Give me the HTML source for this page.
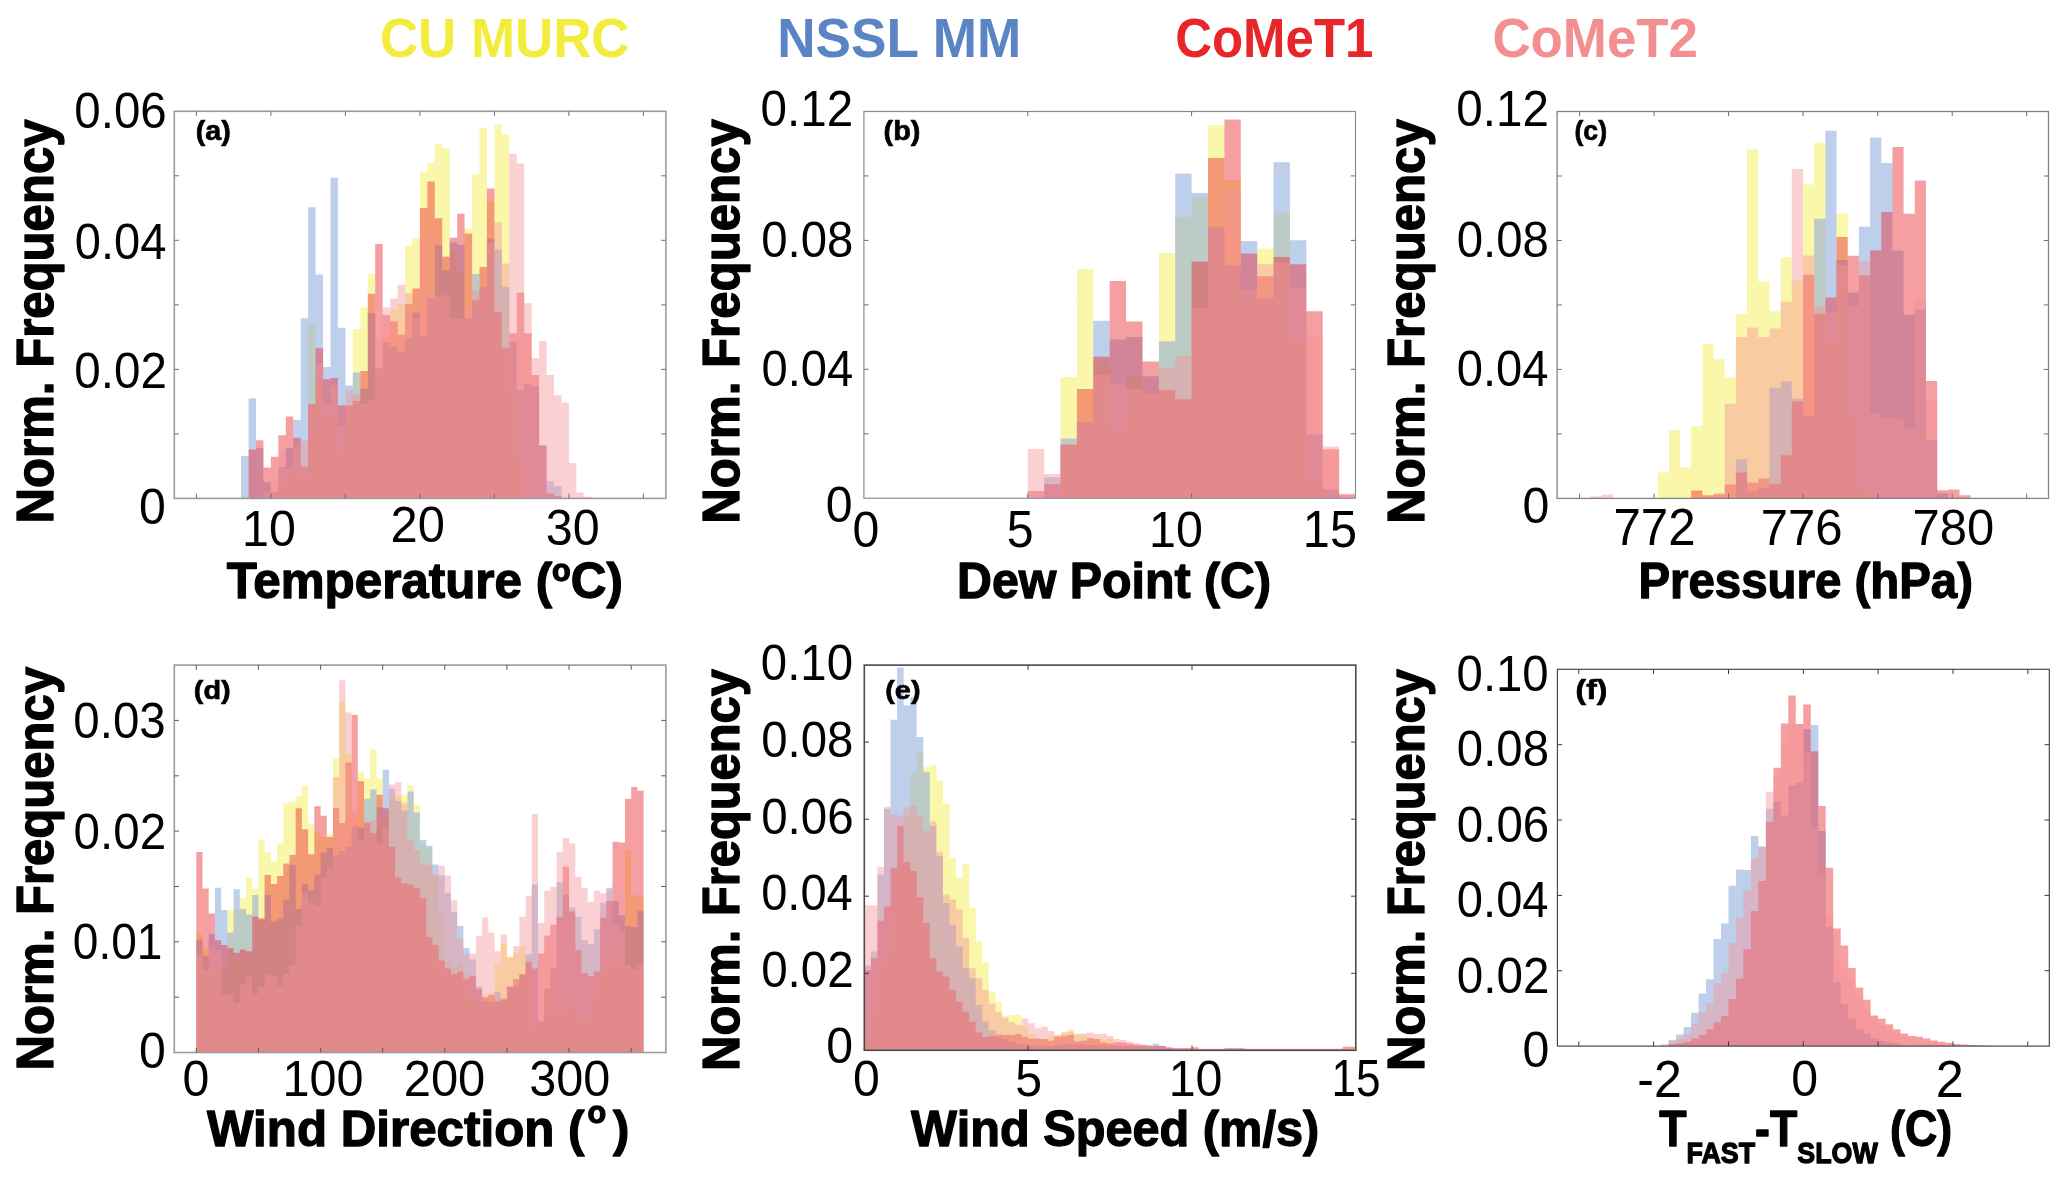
<!DOCTYPE html>
<html><head><meta charset="utf-8"><title>Histograms</title>
<style>
html,body{margin:0;padding:0;background:#fff;}
body{width:2067px;height:1182px;overflow:hidden;font-family:"Liberation Sans",sans-serif;}
svg{display:block;}
text{font-family:"Liberation Sans",sans-serif;}
.b{font-weight:bold;}
</style></head><body>
<svg width="2067" height="1182" viewBox="0 0 2067 1182">
<rect width="2067" height="1182" fill="#fff"/>
<g id="pa">
<clipPath id="ca"><rect x="174.3" y="111.3" width="491.6" height="387.1"/></clipPath>
<g clip-path="url(#ca)">
<path d="M278.4 498.4V483.4 H285.8V470.7 H293.2V474.5 H300.7V481.6 H308.1V325.2 H315.6V381.1 H323.1V416.1 H330.5V413.6 H337.9V454.2 H345.4V409.8 H352.8V329.2 H360.3V307.4 H367.8V273.9 H375.2V375.5 H382.7V338.6 H390.1V309.4 H397.6V304.3 H405.0V245.4 H412.4V238.3 H419.9V171.8 H427.3V162.9 H434.8V143.8 H442.2V148.4 H449.7V250.0 H457.2V270.8 H464.6V228.4 H472.1V174.3 H479.5V128.1 H486.9V201.2 H494.4V124.3 H501.8V134.4 H509.3V392.2 H516.8V456.5 H524.2V498.4Z" fill="#f4ec42" fill-opacity="0.45"/>
<path d="M241.1 498.4V456.0 H248.6V398.3 H256.0V447.9 H263.4V482.1 H270.9V492.3 H278.3V466.9 H285.8V447.9 H293.2V419.9 H300.7V318.3 H308.1V207.3 H315.6V274.6 H323.1V367.1 H330.5V177.8 H337.9V327.7 H345.4V385.6 H352.8V372.4 H360.3V388.7 H367.8V313.2 H375.2V367.8 H382.7V342.4 H390.1V346.3 H397.6V351.8 H405.0V337.4 H412.4V313.2 H419.9V336.3 H427.3V298.2 H434.8V245.4 H442.2V270.3 H449.7V242.4 H457.2V244.9 H464.6V318.1 H472.1V274.1 H479.5V286.8 H486.9V238.6 H494.4V249.5 H501.8V286.8 H509.3V341.4 H516.8V390.2 H524.2V383.3 H531.7V386.2 H539.1V445.4 H546.6V481.3 H554.0V486.0 H561.5V498.4Z" fill="#89a8db" fill-opacity="0.55"/>
<path d="M248.6 498.4V449.6 H256.0V440.2 H263.4V467.4 H270.9V456.7 H278.3V435.2 H285.8V416.6 H293.2V437.7 H300.7V466.4 H308.1V403.9 H315.6V348.3 H323.1V379.3 H330.5V378.0 H337.9V405.4 H345.4V405.4 H352.8V400.9 H360.3V370.9 H367.8V293.7 H375.2V243.9 H382.7V315.0 H390.1V321.6 H397.6V334.8 H405.0V304.3 H412.4V288.6 H419.9V208.1 H427.3V181.4 H434.8V218.2 H442.2V256.8 H449.7V237.8 H457.2V213.7 H464.6V233.5 H472.1V300.3 H479.5V267.0 H486.9V188.5 H494.4V312.2 H501.8V347.8 H509.3V333.3 H516.8V292.7 H524.2V333.3 H531.7V375.0 H539.1V445.4 H546.6V493.4 H554.0V496.3 H561.5V498.4Z" fill="#ea2a32" fill-opacity="0.45"/>
<path d="M263.4 498.4V492.3 H270.9V479.1 H278.3V452.9 H285.8V468.7 H293.2V446.6 H300.7V440.2 H308.1V403.9 H315.6V362.8 H323.1V403.4 H330.5V385.6 H337.9V426.3 H345.4V390.7 H352.8V394.5 H360.3V403.4 H367.8V399.6 H375.2V338.6 H382.7V307.4 H390.1V298.8 H397.6V284.8 H405.0V292.9 H412.4V318.3 H419.9V239.3 H427.3V290.6 H434.8V295.7 H442.2V295.2 H449.7V317.8 H457.2V318.6 H464.6V305.4 H472.1V290.6 H479.5V286.8 H486.9V242.9 H494.4V222.6 H501.8V263.4 H509.3V154.0 H516.8V163.6 H524.2V303.3 H531.7V358.2 H539.1V340.9 H546.6V375.0 H554.0V395.3 H561.5V402.6 H568.9V463.0 H576.4V492.4 H583.8V496.8 H591.3V497.7 H598.7V498.4Z" fill="#f59397" fill-opacity="0.43"/>
</g>
<rect x="174.3" y="111.3" width="491.6" height="387.1" fill="none" stroke="#9b9b9b" stroke-width="1.6"/>
<path d="M196.4 498.4v-4.7 M196.4 111.3v4.7 M270.9 498.4v-4.7 M270.9 111.3v4.7 M345.4 498.4v-4.7 M345.4 111.3v4.7 M419.9 498.4v-4.7 M419.9 111.3v4.7 M494.4 498.4v-4.7 M494.4 111.3v4.7 M568.9 498.4v-4.7 M568.9 111.3v4.7 M643.4 498.4v-4.7 M643.4 111.3v4.7 M174.3 433.9h4.7 M665.9 433.9h-4.7 M174.3 369.4h4.7 M665.9 369.4h-4.7 M174.3 304.9h4.7 M665.9 304.9h-4.7 M174.3 240.3h4.7 M665.9 240.3h-4.7 M174.3 175.8h4.7 M665.9 175.8h-4.7" stroke="#6e6e6e" stroke-width="1" fill="none"/>
</g>
<g id="pb">
<clipPath id="cb"><rect x="863.9" y="111.5" width="491.6" height="386.7"/></clipPath>
<g clip-path="url(#cb)">
<path d="M1060.5 498.2V376.9 H1076.9V269.0 H1093.3V360.8 H1109.7V429.4 H1126.1V376.3 H1142.5V393.4 H1158.9V253.0 H1175.2V217.0 H1191.6V197.5 H1208.0V125.2 H1224.4V180.0 H1240.8V297.5 H1257.2V248.5 H1273.6V212.5 H1289.9V343.0 H1306.3V479.7 H1322.7V498.2Z" fill="#f4ec42" fill-opacity="0.45"/>
<path d="M1044.2 498.2V477.3 H1060.5V438.6 H1076.9V422.5 H1093.3V320.8 H1109.7V339.6 H1126.1V336.9 H1142.5V376.3 H1158.9V341.3 H1175.2V173.5 H1191.6V193.0 H1208.0V227.3 H1224.4V265.6 H1240.8V241.0 H1257.2V298.2 H1273.6V162.2 H1289.9V240.3 H1306.3V434.5 H1322.7V489.3 H1339.1V498.2Z" fill="#89a8db" fill-opacity="0.55"/>
<path d="M1027.8 498.2V491.0 H1044.2V484.2 H1060.5V444.8 H1076.9V388.9 H1093.3V356.7 H1109.7V281.0 H1126.1V321.5 H1142.5V361.5 H1158.9V390.0 H1175.2V399.2 H1191.6V261.5 H1208.0V158.1 H1224.4V119.4 H1240.8V253.6 H1257.2V276.2 H1273.6V257.1 H1289.9V264.3 H1306.3V311.2 H1322.7V449.2 H1339.1V494.4 H1355.5V498.2Z" fill="#ea2a32" fill-opacity="0.45"/>
<path d="M1027.8 498.2V448.9 H1044.2V473.9 H1060.5V444.8 H1076.9V422.5 H1093.3V374.5 H1109.7V384.1 H1126.1V389.3 H1142.5V393.4 H1158.9V367.7 H1175.2V355.7 H1191.6V307.8 H1208.0V227.3 H1224.4V191.3 H1240.8V289.6 H1257.2V264.3 H1273.6V262.2 H1289.9V288.2 H1306.3V335.2 H1322.7V446.5 H1339.1V493.7 H1355.5V498.2Z" fill="#f59397" fill-opacity="0.43"/>
</g>
<rect x="863.9" y="111.5" width="491.6" height="386.7" fill="none" stroke="#8c8c8c" stroke-width="1.2"/>
<path d="M1027.8 498.2v-4.7 M1027.8 111.5v4.7 M1191.6 498.2v-4.7 M1191.6 111.5v4.7 M863.9 433.8h4.7 M1355.5 433.8h-4.7 M863.9 369.3h4.7 M1355.5 369.3h-4.7 M863.9 304.9h4.7 M1355.5 304.9h-4.7 M863.9 240.4h4.7 M1355.5 240.4h-4.7 M863.9 175.9h4.7 M1355.5 175.9h-4.7" stroke="#6e6e6e" stroke-width="1" fill="none"/>
</g>
<g id="pc">
<clipPath id="cc"><rect x="1557.1" y="111.5" width="491.4" height="386.9"/></clipPath>
<g clip-path="url(#cc)">
<path d="M1657.7 498.4V472.4 H1668.9V430.2 H1680.1V467.2 H1691.2V426.1 H1702.4V343.9 H1713.6V359.3 H1724.8V377.5 H1735.9V314.1 H1747.1V149.3 H1758.3V281.5 H1769.5V311.3 H1780.7V257.2 H1791.8V280.5 H1803.0V184.5 H1814.2V142.7 H1825.4V342.2 H1836.5V213.7 H1847.7V417.5 H1858.9V487.8 H1870.1V498.4Z" fill="#f4ec42" fill-opacity="0.45"/>
<path d="M1735.9 498.4V459.3 H1747.1V491.2 H1758.3V487.8 H1769.5V387.7 H1780.7V381.6 H1791.8V398.7 H1803.0V415.8 H1814.2V218.8 H1825.4V130.8 H1836.5V259.9 H1847.7V292.5 H1858.9V226.7 H1870.1V137.6 H1881.3V163.0 H1892.4V250.7 H1903.6V314.7 H1914.8V309.6 H1926.0V439.8 H1937.2V493.6 H1948.3V498.4Z" fill="#89a8db" fill-opacity="0.55"/>
<path d="M1691.2 498.4V490.5 H1702.4V495.3 H1713.6V494.6 H1724.8V484.4 H1735.9V472.4 H1747.1V482.6 H1758.3V478.5 H1769.5V483.7 H1780.7V455.2 H1791.8V401.4 H1803.0V274.7 H1814.2V313.7 H1825.4V297.6 H1836.5V237.0 H1847.7V255.8 H1858.9V275.3 H1870.1V250.3 H1881.3V212.0 H1892.4V146.9 H1903.6V213.7 H1914.8V180.4 H1926.0V380.9 H1937.2V490.2 H1948.3V489.5 H1959.5V495.3 H1970.7V498.4Z" fill="#ea2a32" fill-opacity="0.45"/>
<path d="M1590.6 498.4V496.3 H1601.8V494.6 H1613.0V498.4ZM1713.6 498.4V492.9 H1724.8V403.8 H1735.9V337.0 H1747.1V327.4 H1758.3V337.0 H1769.5V328.5 H1780.7V301.7 H1791.8V169.1 H1803.0V255.5 H1814.2V306.2 H1825.4V312.0 H1836.5V265.1 H1847.7V306.2 H1858.9V261.6 H1870.1V413.1 H1881.3V417.5 H1892.4V419.3 H1903.6V427.8 H1914.8V298.6 H1926.0V399.7 H1937.2V498.4Z" fill="#f59397" fill-opacity="0.43"/>
</g>
<rect x="1557.1" y="111.5" width="491.4" height="386.9" fill="none" stroke="#838383" stroke-width="1.3"/>
<path d="M1579.6 498.4v-4.7 M1579.6 111.5v4.7 M1654.1 498.4v-4.7 M1654.1 111.5v4.7 M1728.6 498.4v-4.7 M1728.6 111.5v4.7 M1803.1 498.4v-4.7 M1803.1 111.5v4.7 M1877.7 498.4v-4.7 M1877.7 111.5v4.7 M1952.2 498.4v-4.7 M1952.2 111.5v4.7 M2026.7 498.4v-4.7 M2026.7 111.5v4.7 M1557.1 433.9h4.7 M2048.5 433.9h-4.7 M1557.1 369.4h4.7 M2048.5 369.4h-4.7 M1557.1 304.9h4.7 M2048.5 304.9h-4.7 M1557.1 240.5h4.7 M2048.5 240.5h-4.7 M1557.1 176.0h4.7 M2048.5 176.0h-4.7" stroke="#6e6e6e" stroke-width="1" fill="none"/>
</g>
<g id="pd">
<clipPath id="cd"><rect x="174.3" y="665.1" width="491.6" height="387.4"/></clipPath>
<g clip-path="url(#cd)">
<path d="M196.3 1052.5V934.0 H202.5V949.0 H208.7V973.1 H214.9V962.1 H221.2V968.4 H227.4V909.9 H233.6V908.9 H239.8V898.0 H246.0V877.6 H252.2V888.6 H258.4V839.5 H264.6V852.6 H270.9V861.4 H277.1V843.2 H283.3V803.2 H289.5V801.9 H295.7V796.3 H301.9V785.4 H308.1V823.8 H314.3V832.3 H320.6V836.4 H326.8V834.5 H333.0V758.8 H339.2V701.8 H345.4V754.1 H351.6V812.6 H357.8V771.3 H364.0V778.5 H370.2V749.4 H376.5V778.5 H382.7V816.6 H388.9V797.9 H395.1V796.3 H401.3V794.7 H407.5V785.4 H413.7V805.1 H419.9V844.8 H426.2V847.9 H432.4V876.1 H438.6V913.6 H444.8V962.1 H451.0V968.4 H457.2V962.7 H463.4V973.1 H469.6V999.7 H475.9V1002.2 H482.1V995.0 H488.3V992.8 H494.5V963.7 H500.7V944.0 H506.9V956.5 H513.1V952.7 H519.4V946.5 H525.6V959.6 H531.8V1030.3 H538.0V1021.6 H544.2V988.7 H550.4V968.4 H556.6V1016.9 H562.8V996.5 H569.1V1006.5 H575.3V1018.4 H581.5V1020.0 H587.7V1005.9 H593.9V982.5 H600.1V969.9 H606.3V953.7 H612.5V968.4 H618.8V940.2 H625.0V850.4 H631.2V894.9 H637.4V896.4 H643.6V1052.5Z" fill="#f4ec42" fill-opacity="0.45"/>
<path d="M196.3 1052.5V939.6 H202.5V955.9 H208.7V934.0 H214.9V887.7 H221.2V909.9 H227.4V932.4 H233.6V889.2 H239.8V908.9 H246.0V914.6 H252.2V894.9 H258.4V919.9 H264.6V894.9 H270.9V921.4 H277.1V918.3 H283.3V899.5 H289.5V865.1 H295.7V908.9 H301.9V883.9 H308.1V890.2 H314.3V874.5 H320.6V852.6 H326.8V847.9 H333.0V855.1 H339.2V851.1 H345.4V846.4 H351.6V826.0 H357.8V827.6 H364.0V798.8 H370.2V789.4 H376.5V807.3 H382.7V769.7 H388.9V788.5 H395.1V801.0 H401.3V810.4 H407.5V791.6 H413.7V812.6 H419.9V840.1 H426.2V845.7 H432.4V864.5 H438.6V875.5 H444.8V892.7 H451.0V912.1 H457.2V926.1 H463.4V948.0 H469.6V959.6 H475.9V986.5 H482.1V1001.2 H488.3V1002.2 H494.5V991.8 H500.7V998.1 H506.9V987.1 H513.1V986.5 H519.4V975.3 H525.6V954.3 H531.8V884.5 H538.0V1021.6 H544.2V988.7 H550.4V968.4 H556.6V882.3 H562.8V894.9 H569.1V907.4 H575.3V916.8 H581.5V940.2 H587.7V944.0 H593.9V929.3 H600.1V902.7 H606.3V887.7 H612.5V901.1 H618.8V915.2 H625.0V926.1 H631.2V927.1 H637.4V910.5 H643.6V1052.5Z" fill="#89a8db" fill-opacity="0.55"/>
<path d="M196.3 1052.5V852.0 H202.5V888.6 H208.7V913.6 H214.9V940.2 H221.2V944.9 H227.4V948.0 H233.6V952.7 H239.8V949.6 H246.0V951.2 H252.2V916.8 H258.4V918.3 H264.6V875.1 H270.9V883.9 H277.1V876.1 H283.3V863.6 H289.5V855.1 H295.7V808.2 H301.9V829.2 H308.1V854.2 H314.3V806.3 H320.6V815.7 H326.8V837.0 H333.0V808.2 H339.2V822.9 H345.4V762.5 H351.6V715.0 H357.8V781.3 H364.0V822.9 H370.2V833.2 H376.5V794.7 H382.7V808.2 H388.9V846.4 H395.1V877.6 H401.3V883.3 H407.5V884.5 H413.7V887.7 H419.9V898.0 H426.2V937.1 H432.4V944.9 H438.6V960.6 H444.8V968.4 H451.0V974.0 H457.2V971.5 H463.4V979.3 H469.6V976.2 H475.9V988.7 H482.1V997.2 H488.3V995.0 H494.5V1001.2 H500.7V999.7 H506.9V986.5 H513.1V979.3 H519.4V974.0 H525.6V962.1 H531.8V968.4 H538.0V953.4 H544.2V935.5 H550.4V924.6 H556.6V916.8 H562.8V866.7 H569.1V911.4 H575.3V950.2 H581.5V973.1 H587.7V976.2 H593.9V971.5 H600.1V917.7 H606.3V901.1 H612.5V841.7 H618.8V842.6 H625.0V798.8 H631.2V786.9 H637.4V790.7 H643.6V1052.5Z" fill="#ea2a32" fill-opacity="0.45"/>
<path d="M196.3 1052.5V954.3 H202.5V969.9 H208.7V948.0 H214.9V949.6 H221.2V995.0 H227.4V993.4 H233.6V1002.8 H239.8V984.0 H246.0V977.1 H252.2V993.4 H258.4V987.1 H264.6V974.6 H270.9V976.2 H277.1V985.6 H283.3V974.0 H289.5V965.2 H295.7V926.1 H301.9V893.3 H308.1V902.7 H314.3V905.8 H320.6V877.0 H326.8V868.3 H333.0V776.9 H339.2V680.2 H345.4V712.5 H351.6V810.4 H357.8V840.1 H364.0V821.3 H370.2V820.7 H376.5V843.2 H382.7V827.6 H388.9V784.4 H395.1V782.2 H401.3V803.2 H407.5V840.1 H413.7V850.1 H419.9V863.6 H426.2V865.1 H432.4V874.5 H438.6V865.8 H444.8V875.5 H451.0V900.2 H457.2V938.7 H463.4V954.3 H469.6V953.4 H475.9V936.2 H482.1V917.4 H488.3V932.4 H494.5V951.2 H500.7V934.6 H506.9V957.4 H513.1V945.9 H519.4V916.8 H525.6V895.8 H531.8V814.1 H538.0V923.0 H544.2V890.8 H550.4V887.0 H556.6V852.0 H562.8V837.9 H569.1V843.2 H575.3V877.0 H581.5V887.7 H587.7V901.7 H593.9V890.8 H600.1V893.3 H606.3V890.8 H612.5V924.6 H618.8V930.8 H625.0V965.2 H631.2V969.3 H637.4V965.2 H643.6V1052.5Z" fill="#f59397" fill-opacity="0.43"/>
</g>
<rect x="174.3" y="665.1" width="491.6" height="387.4" fill="none" stroke="#9b9b9b" stroke-width="1.6"/>
<path d="M196.3 1052.5v-4.7 M196.3 665.1v4.7 M258.4 1052.5v-4.7 M258.4 665.1v4.7 M320.6 1052.5v-4.7 M320.6 665.1v4.7 M382.7 1052.5v-4.7 M382.7 665.1v4.7 M444.8 1052.5v-4.7 M444.8 665.1v4.7 M506.9 1052.5v-4.7 M506.9 665.1v4.7 M569.0 1052.5v-4.7 M569.0 665.1v4.7 M631.2 1052.5v-4.7 M631.2 665.1v4.7 M174.3 997.2h4.7 M665.9 997.2h-4.7 M174.3 941.8h4.7 M665.9 941.8h-4.7 M174.3 886.5h4.7 M665.9 886.5h-4.7 M174.3 831.1h4.7 M665.9 831.1h-4.7 M174.3 775.8h4.7 M665.9 775.8h-4.7 M174.3 720.4h4.7 M665.9 720.4h-4.7" stroke="#5a5a5a" stroke-width="1" fill="none"/>
</g>
<g id="pe">
<clipPath id="ce"><rect x="864.3" y="665.1" width="491.5" height="385.2"/></clipPath>
<g clip-path="url(#ce)">
<path d="M864.3 1050.3V1041.9 H870.9V1011.8 H877.4V968.2 H884.0V956.5 H890.5V903.9 H897.1V871.1 H903.6V815.8 H910.2V774.0 H916.7V752.2 H923.3V767.3 H929.8V765.6 H936.4V780.7 H942.9V803.4 H949.5V857.7 H956.0V877.8 H962.6V863.7 H969.1V907.9 H975.7V941.4 H982.3V962.5 H988.8V991.7 H995.4V1001.7 H1001.9V1016.0 H1008.5V1014.9 H1015.0V1014.5 H1021.6V1026.0 H1028.1V1034.1 H1034.7V1038.7 H1041.2V1039.5 H1047.8V1036.8 H1054.3V1034.9 H1060.9V1033.7 H1067.4V1029.5 H1074.0V1034.9 H1080.5V1035.7 H1087.1V1038.4 H1093.7V1038.7 H1100.2V1039.5 H1106.8V1038.7 H1113.3V1045.3 H1119.9V1046.1 H1126.4V1046.8 H1133.0V1048.0 H1139.5V1048.8 H1146.1V1050.3Z" fill="#f4ec42" fill-opacity="0.45"/>
<path d="M864.3 1050.3V965.6 H870.9V951.5 H877.4V874.4 H884.0V809.1 H890.5V719.7 H897.1V667.4 H903.6V705.3 H910.2V696.9 H916.7V737.1 H923.3V772.3 H929.8V825.9 H936.4V856.0 H942.9V902.9 H949.5V924.7 H956.0V946.5 H962.6V968.2 H969.1V978.3 H975.7V1005.1 H982.3V1021.8 H988.8V1030.2 H995.4V1036.9 H1001.9V1038.7 H1008.5V1041.4 H1015.0V1043.4 H1021.6V1044.1 H1028.1V1045.3 H1034.7V1045.7 H1041.2V1045.7 H1047.8V1045.7 H1054.3V1044.9 H1060.9V1044.5 H1067.4V1044.1 H1074.0V1044.1 H1080.5V1044.5 H1087.1V1044.9 H1093.7V1044.9 H1100.2V1045.3 H1106.8V1045.7 H1113.3V1045.7 H1119.9V1046.1 H1126.4V1046.1 H1133.0V1046.1 H1139.5V1045.7 H1146.1V1044.9 H1152.6V1043.8 H1159.2V1046.1 H1165.7V1048.0 H1172.3V1050.3Z" fill="#89a8db" fill-opacity="0.55"/>
<path d="M864.3 1050.3V969.9 H870.9V958.2 H877.4V920.7 H884.0V906.3 H890.5V867.7 H897.1V825.9 H903.6V861.7 H910.2V871.1 H916.7V897.2 H923.3V923.0 H929.8V958.2 H936.4V971.6 H942.9V976.6 H949.5V990.0 H956.0V1001.7 H962.6V1011.8 H969.1V1021.8 H975.7V1032.5 H982.3V1036.9 H988.8V1035.9 H995.4V1034.6 H1001.9V1034.9 H1008.5V1034.9 H1015.0V1034.1 H1021.6V1036.8 H1028.1V1038.7 H1034.7V1038.4 H1041.2V1039.1 H1047.8V1040.7 H1054.3V1036.8 H1060.9V1036.0 H1067.4V1034.9 H1074.0V1041.4 H1080.5V1040.7 H1087.1V1038.0 H1093.7V1039.1 H1100.2V1042.6 H1106.8V1043.4 H1113.3V1042.2 H1119.9V1042.6 H1126.4V1043.4 H1133.0V1044.5 H1139.5V1045.3 H1146.1V1046.4 H1152.6V1046.1 H1159.2V1046.1 H1165.7V1047.2 H1172.3V1048.0 H1178.8V1048.0 H1185.4V1048.0 H1192.0V1047.2 H1198.5V1048.8 H1205.1V1048.8 H1211.6V1048.8 H1218.2V1048.8 H1224.7V1048.0 H1231.3V1048.0 H1237.8V1048.0 H1244.4V1048.8 H1250.9V1048.8 H1257.5V1048.8 H1264.0V1048.8 H1270.6V1048.8 H1277.1V1048.8 H1283.7V1048.8 H1290.2V1048.8 H1296.8V1048.8 H1303.4V1048.8 H1309.9V1048.8 H1316.5V1048.8 H1323.0V1048.8 H1329.6V1048.8 H1336.1V1048.8 H1342.7V1046.8 H1349.2V1046.8 H1355.8V1050.3Z" fill="#ea2a32" fill-opacity="0.45"/>
<path d="M864.3 1050.3V905.3 H870.9V905.3 H877.4V867.1 H884.0V806.8 H890.5V814.2 H897.1V815.8 H903.6V807.5 H910.2V805.8 H916.7V815.8 H923.3V830.9 H929.8V821.5 H936.4V851.7 H942.9V894.5 H949.5V899.6 H956.0V909.6 H962.6V938.1 H969.1V968.2 H975.7V978.3 H982.3V990.0 H988.8V1003.4 H995.4V1011.8 H1001.9V1017.6 H1008.5V1022.2 H1015.0V1024.9 H1021.6V1018.5 H1028.1V1023.3 H1034.7V1028.3 H1041.2V1026.8 H1047.8V1031.0 H1054.3V1035.3 H1060.9V1032.2 H1067.4V1031.4 H1074.0V1033.7 H1080.5V1033.4 H1087.1V1032.6 H1093.7V1034.1 H1100.2V1033.7 H1106.8V1036.0 H1113.3V1039.1 H1119.9V1039.9 H1126.4V1041.4 H1133.0V1043.4 H1139.5V1044.5 H1146.1V1046.1 H1152.6V1046.4 H1159.2V1047.2 H1165.7V1048.0 H1172.3V1048.4 H1178.8V1048.4 H1185.4V1048.8 H1192.0V1048.8 H1198.5V1049.1 H1205.1V1049.1 H1211.6V1049.1 H1218.2V1049.1 H1224.7V1048.8 H1231.3V1048.8 H1237.8V1048.8 H1244.4V1049.1 H1250.9V1049.1 H1257.5V1049.1 H1264.0V1049.1 H1270.6V1049.1 H1277.1V1049.1 H1283.7V1049.1 H1290.2V1049.1 H1296.8V1049.1 H1303.4V1049.1 H1309.9V1049.1 H1316.5V1049.1 H1323.0V1049.1 H1329.6V1049.1 H1336.1V1049.1 H1342.7V1048.8 H1349.2V1048.8 H1355.8V1050.3Z" fill="#f59397" fill-opacity="0.43"/>
</g>
<rect x="864.3" y="665.1" width="491.5" height="385.2" fill="none" stroke="#4a4a4a" stroke-width="1.6"/>
<path d="M1028.1 1050.3v-4.7 M1028.1 665.1v4.7 M1192.0 1050.3v-4.7 M1192.0 665.1v4.7 M864.3 973.3h4.7 M1355.8 973.3h-4.7 M864.3 896.2h4.7 M1355.8 896.2h-4.7 M864.3 819.2h4.7 M1355.8 819.2h-4.7 M864.3 742.1h4.7 M1355.8 742.1h-4.7" stroke="#3c3c3c" stroke-width="1" fill="none"/>
</g>
<g id="pf">
<clipPath id="cf"><rect x="1557.4" y="669.3" width="491.9" height="376.8"/></clipPath>
<g clip-path="url(#cf)">
<path d="M1668.6 1046.1V1040.0 H1676.1V1034.5 H1683.6V1026.9 H1691.1V1012.8 H1698.5V993.4 H1706.0V979.3 H1713.5V939.0 H1721.0V923.6 H1728.5V885.8 H1736.0V869.4 H1743.4V870.1 H1750.9V836.0 H1758.4V846.5 H1765.9V808.7 H1773.4V801.5 H1780.9V815.3 H1788.3V785.1 H1795.8V783.1 H1803.3V729.3 H1810.8V725.1 H1818.3V831.0 H1825.7V926.8 H1833.2V982.0 H1840.7V1003.9 H1848.2V1018.7 H1855.7V1029.2 H1863.2V1033.5 H1870.6V1038.4 H1878.1V1041.0 H1885.6V1042.3 H1893.1V1043.6 H1900.6V1046.1Z" fill="#89a8db" fill-opacity="0.55"/>
<path d="M1668.6 1046.1V1044.3 H1676.1V1043.3 H1683.6V1041.7 H1691.1V1038.4 H1698.5V1035.1 H1706.0V1029.2 H1713.5V1022.6 H1721.0V1016.1 H1728.5V999.0 H1736.0V978.7 H1743.4V949.2 H1750.9V911.1 H1758.4V880.9 H1765.9V821.9 H1773.4V767.7 H1780.9V723.4 H1788.3V695.5 H1795.8V724.1 H1803.3V704.4 H1810.8V751.3 H1818.3V806.1 H1825.7V867.8 H1833.2V928.5 H1840.7V945.5 H1848.2V967.9 H1855.7V987.5 H1863.2V999.7 H1870.6V1015.4 H1878.1V1018.7 H1885.6V1024.3 H1893.1V1029.2 H1900.6V1033.5 H1908.1V1036.1 H1915.5V1036.7 H1923.0V1038.4 H1930.5V1040.4 H1938.0V1041.7 H1945.5V1042.7 H1953.0V1044.0 H1960.4V1044.6 H1967.9V1045.0 H1975.4V1045.3 H1982.9V1045.4 H1990.4V1046.1Z" fill="#ea2a32" fill-opacity="0.45"/>
<path d="M1661.1 1046.1V1044.0 H1668.6V1041.7 H1676.1V1038.4 H1683.6V1034.5 H1691.1V1023.6 H1698.5V1012.1 H1706.0V1003.0 H1713.5V983.3 H1721.0V972.8 H1728.5V943.2 H1736.0V917.0 H1743.4V890.8 H1750.9V858.6 H1758.4V847.1 H1765.9V791.7 H1773.4V775.9 H1780.9V742.5 H1788.3V723.4 H1795.8V725.4 H1803.3V752.3 H1810.8V826.8 H1818.3V874.4 H1825.7V915.4 H1833.2V960.6 H1840.7V969.5 H1848.2V981.0 H1855.7V996.4 H1863.2V1010.5 H1870.6V1019.4 H1878.1V1025.3 H1885.6V1029.2 H1893.1V1033.5 H1900.6V1036.7 H1908.1V1039.0 H1915.5V1040.4 H1923.0V1041.7 H1930.5V1043.0 H1938.0V1044.0 H1945.5V1046.1Z" fill="#f59397" fill-opacity="0.43"/>
</g>
<rect x="1557.4" y="669.3" width="491.9" height="376.8" fill="none" stroke="#3c3c3c" stroke-width="1.1"/>
<path d="M1578.8 1046.1v-4.7 M1578.8 669.3v4.7 M1653.6 1046.1v-4.7 M1653.6 669.3v4.7 M1728.5 1046.1v-4.7 M1728.5 669.3v4.7 M1803.3 1046.1v-4.7 M1803.3 669.3v4.7 M1878.1 1046.1v-4.7 M1878.1 669.3v4.7 M1953.0 1046.1v-4.7 M1953.0 669.3v4.7 M2027.8 1046.1v-4.7 M2027.8 669.3v4.7 M1557.4 970.7h4.7 M2049.3 970.7h-4.7 M1557.4 895.4h4.7 M2049.3 895.4h-4.7 M1557.4 820.0h4.7 M2049.3 820.0h-4.7 M1557.4 744.7h4.7 M2049.3 744.7h-4.7" stroke="#3c3c3c" stroke-width="1" fill="none"/>
</g>
<g id="labels" fill="#000" style="opacity:0.999">
<text transform="matrix(1.0578 0 0 1.1211 379.88 56.84)" font-size="50" font-weight="bold" fill="#f3ec3c">CU MURC</text>
<text transform="matrix(1.0628 0 0 1.1211 777.15 56.84)" font-size="50" font-weight="bold" fill="#5b84c4">NSSL MM</text>
<text transform="matrix(1.0194 0 0 1.1211 1175.16 56.84)" font-size="50" font-weight="bold" fill="#e8262a">CoMeT1</text>
<text transform="matrix(1.0577 0 0 1.1211 1492.38 56.84)" font-size="50" font-weight="bold" fill="#f48f91">CoMeT2</text>
<text transform="matrix(0.9495 0 0 1.0141 74.35 128.09)" font-size="50">0.06</text>
<text transform="matrix(0.9419 0 0 1.0141 74.77 259.19)" font-size="50">0.04</text>
<text transform="matrix(0.9520 0 0 1.0141 74.35 387.59)" font-size="50">0.02</text>
<text transform="matrix(0.9642 0 0 1.0141 139.02 523.79)" font-size="50">0</text>
<text transform="matrix(0.9680 0 0 1.0141 242.07 546.49)" font-size="50">10</text>
<text transform="matrix(0.9776 0 0 1.0141 390.61 541.69)" font-size="50">20</text>
<text transform="matrix(0.9681 0 0 1.0141 545.81 544.99)" font-size="50">30</text>
<text transform="matrix(0.9520 0 0 1.0141 760.55 125.99)" font-size="50">0.12</text>
<text transform="matrix(0.9469 0 0 1.0141 761.16 256.89)" font-size="50">0.08</text>
<text transform="matrix(0.9419 0 0 1.0141 761.57 385.89)" font-size="50">0.04</text>
<text transform="matrix(0.9642 0 0 1.0141 825.82 522.49)" font-size="50">0</text>
<text transform="matrix(0.9642 0 0 1.0141 852.62 546.69)" font-size="50">0</text>
<text transform="matrix(0.9642 0 0 1.0360 1006.72 546.68)" font-size="50">5</text>
<text transform="matrix(0.9680 0 0 1.0141 1148.97 546.69)" font-size="50">10</text>
<text transform="matrix(0.9729 0 0 1.0360 1302.85 546.68)" font-size="50">15</text>
<text transform="matrix(0.9520 0 0 1.0141 1456.35 126.19)" font-size="50">0.12</text>
<text transform="matrix(0.9469 0 0 1.0141 1456.76 257.09)" font-size="50">0.08</text>
<text transform="matrix(0.9419 0 0 1.0141 1456.77 385.89)" font-size="50">0.04</text>
<text transform="matrix(0.9642 0 0 1.0141 1522.52 522.89)" font-size="50">0</text>
<text transform="matrix(0.9847 0 0 1.0286 1613.39 545.20)" font-size="50">772</text>
<text transform="matrix(0.9816 0 0 1.0141 1760.80 544.69)" font-size="50">776</text>
<text transform="matrix(0.9785 0 0 1.0141 1912.60 544.69)" font-size="50">780</text>
<text transform="matrix(0.9495 0 0 1.0141 73.35 738.19)" font-size="50">0.03</text>
<text transform="matrix(0.9520 0 0 1.0141 73.55 848.69)" font-size="50">0.02</text>
<text transform="matrix(0.9218 0 0 1.0141 72.81 959.39)" font-size="50">0.01</text>
<text transform="matrix(0.9642 0 0 1.0141 139.02 1068.49)" font-size="50">0</text>
<text transform="matrix(0.9642 0 0 1.0141 182.42 1096.29)" font-size="50">0</text>
<text transform="matrix(0.9711 0 0 1.0141 282.51 1096.29)" font-size="50">100</text>
<text transform="matrix(0.9785 0 0 1.0141 403.70 1096.29)" font-size="50">200</text>
<text transform="matrix(0.9723 0 0 1.0141 529.31 1096.29)" font-size="50">300</text>
<text transform="matrix(0.9469 0 0 1.0141 760.86 680.29)" font-size="50">0.10</text>
<text transform="matrix(0.9469 0 0 1.0141 761.16 757.39)" font-size="50">0.08</text>
<text transform="matrix(0.9495 0 0 1.0141 761.15 833.79)" font-size="50">0.06</text>
<text transform="matrix(0.9419 0 0 1.0141 761.17 910.39)" font-size="50">0.04</text>
<text transform="matrix(0.9520 0 0 1.0141 761.15 987.09)" font-size="50">0.02</text>
<text transform="matrix(0.9642 0 0 1.0141 826.22 1062.59)" font-size="50">0</text>
<text transform="matrix(0.9642 0 0 1.0141 853.12 1095.89)" font-size="50">0</text>
<text transform="matrix(0.9642 0 0 1.0360 1015.22 1096.28)" font-size="50">5</text>
<text transform="matrix(0.9680 0 0 1.0141 1168.67 1096.29)" font-size="50">10</text>
<text transform="matrix(0.8844 0 0 1.0360 1331.48 1096.28)" font-size="50">15</text>
<text transform="matrix(0.9469 0 0 1.0141 1456.56 690.89)" font-size="50">0.10</text>
<text transform="matrix(0.9469 0 0 1.0141 1456.86 765.89)" font-size="50">0.08</text>
<text transform="matrix(0.9495 0 0 1.0141 1456.85 842.09)" font-size="50">0.06</text>
<text transform="matrix(0.9419 0 0 1.0141 1456.87 917.29)" font-size="50">0.04</text>
<text transform="matrix(0.9520 0 0 1.0141 1456.85 992.79)" font-size="50">0.02</text>
<text transform="matrix(0.9642 0 0 1.0141 1522.52 1066.89)" font-size="50">0</text>
<text transform="matrix(1.0013 0 0 1.0286 1637.25 1096.70)" font-size="50">-2</text>
<text transform="matrix(0.9642 0 0 1.0141 1791.32 1095.99)" font-size="50">0</text>
<text transform="matrix(1.0066 0 0 1.0286 1935.73 1096.70)" font-size="50">2</text>
<text transform="matrix(0.5722 0 0 0.5382 195.70 139.78)" font-size="50" font-weight="bold" stroke="#000" stroke-width="1.3" stroke-linejoin="round">(a)</text>
<text transform="matrix(0.5776 0 0 0.5382 883.59 139.78)" font-size="50" font-weight="bold" stroke="#000" stroke-width="1.3" stroke-linejoin="round">(b)</text>
<text transform="matrix(0.5339 0 0 0.5382 1574.47 139.78)" font-size="50" font-weight="bold" stroke="#000" stroke-width="1.3" stroke-linejoin="round">(c)</text>
<text transform="matrix(0.5776 0 0 0.5340 193.79 699.03)" font-size="50" font-weight="bold" stroke="#000" stroke-width="1.3" stroke-linejoin="round">(d)</text>
<text transform="matrix(0.5757 0 0 0.5298 885.29 699.07)" font-size="50" font-weight="bold" stroke="#000" stroke-width="1.3" stroke-linejoin="round">(e)</text>
<text transform="matrix(0.6357 0 0 0.5403 1575.59 698.96)" font-size="50" font-weight="bold" stroke="#000" stroke-width="1.3" stroke-linejoin="round">(f)</text>
<text transform="matrix(0.9867 0 0 1.0085 226.80 598.40)" font-size="50" font-weight="bold" stroke="#000" stroke-width="1.3" stroke-linejoin="round">Temperature (<tspan dy="-17" font-size="31">o</tspan><tspan dy="17">C)</tspan></text>
<text transform="matrix(0.9667 0 0 1.0085 957.04 598.40)" font-size="50" font-weight="bold" stroke="#000" stroke-width="1.3" stroke-linejoin="round">Dew Point (C)</text>
<text transform="matrix(0.9482 0 0 1.0085 1638.39 598.40)" font-size="50" font-weight="bold" stroke="#000" stroke-width="1.3" stroke-linejoin="round">Pressure (hPa)</text>
<text transform="matrix(0.9862 0 0 1.0085 206.99 1146.20)" font-size="50" font-weight="bold" stroke="#000" stroke-width="1.3" stroke-linejoin="round">Wind Direction (<tspan dx="3" dy="-23" font-size="31">o</tspan><tspan dx="7" dy="23">)</tspan></text>
<text transform="matrix(0.9743 0 0 1.0085 911.09 1146.20)" font-size="50" font-weight="bold" stroke="#000" stroke-width="1.3" stroke-linejoin="round">Wind Speed (m/s)</text>
<text transform="matrix(0.8939 0 0 1.0085 1659.30 1146.20)" font-size="50" font-weight="bold" stroke="#000" stroke-width="1.3" stroke-linejoin="round">T<tspan dy="17" font-size="30">FAST</tspan><tspan dy="-17">-T</tspan><tspan dy="17" font-size="30">SLOW</tspan><tspan dy="-17"> (C)</tspan></text>
<text transform="matrix(0 -0.9828 1.0183 0 52.94 523.40)" font-size="50" font-weight="bold" stroke="#000" stroke-width="1.3" stroke-linejoin="round">Norm. Frequency</text>
<text transform="matrix(0 -0.9840 1.0183 0 738.94 523.71)" font-size="50" font-weight="bold" stroke="#000" stroke-width="1.3" stroke-linejoin="round">Norm. Frequency</text>
<text transform="matrix(0 -0.9840 1.0183 0 1423.84 523.71)" font-size="50" font-weight="bold" stroke="#000" stroke-width="1.3" stroke-linejoin="round">Norm. Frequency</text>
<text transform="matrix(0 -0.9820 1.0183 0 52.94 1070.50)" font-size="50" font-weight="bold" stroke="#000" stroke-width="1.3" stroke-linejoin="round">Norm. Frequency</text>
<text transform="matrix(0 -0.9776 1.0183 0 738.94 1070.89)" font-size="50" font-weight="bold" stroke="#000" stroke-width="1.3" stroke-linejoin="round">Norm. Frequency</text>
<text transform="matrix(0 -0.9776 1.0183 0 1423.84 1070.89)" font-size="50" font-weight="bold" stroke="#000" stroke-width="1.3" stroke-linejoin="round">Norm. Frequency</text>
</g>

</svg>
</body></html>
